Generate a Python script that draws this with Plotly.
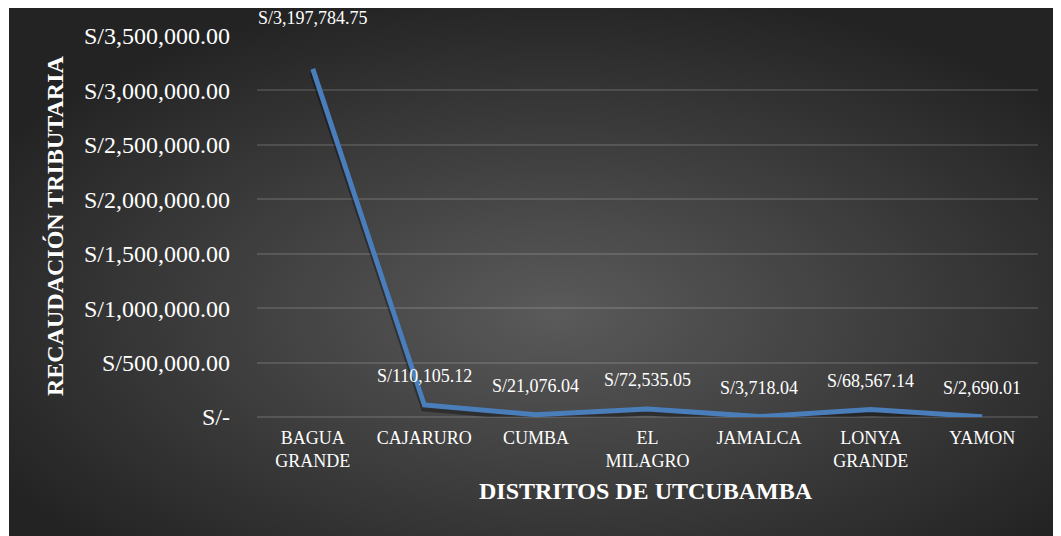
import base64
import plotly.graph_objects as go

distritos = ['BAGUA<br>GRANDE', 'CAJARURO', 'CUMBA', 'EL<br>MILAGRO',
             'JAMALCA', 'LONYA<br>GRANDE', 'YAMON']
recaudacion = [3197784.75, 110105.12, 21076.04, 72535.05, 3718.04, 68567.14, 2690.01]
etiquetas = ['S/3,197,784.75', 'S/110,105.12', 'S/21,076.04', 'S/72,535.05',
             'S/3,718.04', 'S/68,567.14', 'S/2,690.01']
y_ticks = [0, 500000, 1000000, 1500000, 2000000, 2500000, 3000000, 3500000]
y_ticktext = ['S/-', 'S/500,000.00', 'S/1,000,000.00', 'S/1,500,000.00',
              'S/2,000,000.00', 'S/2,500,000.00', 'S/3,000,000.00', 'S/3,500,000.00']

serif = 'Liberation Serif'
y_max = 3500000

# dark radial background like the Excel chart style
svg = ("<svg xmlns='http://www.w3.org/2000/svg' width='1052' height='530'>"
       "<defs><radialGradient id='g' cx='52%' cy='58%' r='62%'>"
       "<stop offset='0' stop-color='#5a5a5a'/>"
       "<stop offset='1' stop-color='#232323'/>"
       "</radialGradient></defs>"
       "<rect width='1052' height='530' fill='url(#g)'/></svg>")
bg_src = 'data:image/svg+xml;base64,' + base64.b64encode(svg.encode()).decode()

# page body margin shifts the figure by 8px
OFF = 8
FW, FH = 1061 - OFF, 536 - OFF
# plot area in screen pixels: x 257..1038, y 36..417
L, R, T, B = 257 - OFF, 1038 - OFF, 36 - OFF, 417 - OFF
W, H = R - L, B - T


def px_x(p):
    return (p - OFF - L) / W


def px_y(p):
    return (B - (p - OFF)) / H


# shadow axis: same data drawn a few px lower
shadow_shift = 3 / H * y_max

fig = go.Figure()
# base axis carries ticks and grid
fig.add_trace(go.Scatter(
    x=distritos, y=recaudacion, mode='lines',
    line=dict(color='rgba(0,0,0,0)', width=0),
    hoverinfo='skip', showlegend=False,
))
fig.add_trace(go.Scatter(
    x=distritos, y=recaudacion, mode='lines', yaxis='y2',
    line=dict(color='rgba(0,0,0,0.35)', width=7),
    hoverinfo='skip', showlegend=False,
))
fig.add_trace(go.Scatter(
    x=distritos, y=recaudacion, mode='lines', yaxis='y3',
    line=dict(color='#4a7ebb', width=5),
    hoverinfo='skip', showlegend=False,
))

for i, (d, v, t) in enumerate(zip(distritos, recaudacion, etiquetas)):
    fig.add_annotation(x=d, y=v, yref='y3', text=t, showarrow=False,
                       yshift=51 if i == 0 else 29,
                       font=dict(family=serif, size=18, color='white'))

fig.add_annotation(xref='paper', yref='paper', x=px_x(55), y=px_y(226),
                   xanchor='center', yanchor='middle',
                   text='<b>RECAUDACIÓN TRIBUTARIA</b>', textangle=-90,
                   showarrow=False, font=dict(family=serif, size=24, color='white'))
fig.add_annotation(xref='paper', yref='paper', x=px_x(646), y=px_y(491),
                   xanchor='center', yanchor='middle',
                   text='<b>DISTRITOS DE UTCUBAMBA</b>',
                   showarrow=False, font=dict(family=serif, size=24, color='white'))

fig.add_layout_image(dict(
    source=bg_src, xref='paper', yref='paper',
    x=px_x(9), y=px_y(6), sizex=1052 / W, sizey=530 / H,
    xanchor='left', yanchor='top', sizing='stretch', layer='below',
))

fig.update_layout(
    width=FW, height=FH,
    margin=dict(l=L, r=FW - R, t=T, b=FH - B, autoexpand=False),
    paper_bgcolor='white', plot_bgcolor='rgba(0,0,0,0)',
    xaxis=dict(range=[-0.5, 6.5], showgrid=False, zeroline=False, showline=False,
               tickfont=dict(family=serif, size=18, color='white'), ticks='',
               ticklabelstandoff=8),
    yaxis=dict(range=[0, y_max], tickvals=y_ticks, ticktext=y_ticktext,
               showgrid=True, gridcolor='rgba(255,255,255,0.13)', gridwidth=1.5,
               zeroline=True, zerolinecolor='rgba(255,255,255,0.13)', zerolinewidth=1.5,
               showline=False, ticks='', ticklabelstandoff=26,
               tickfont=dict(family=serif, size=24, color='white')),
    yaxis2=dict(range=[shadow_shift, y_max + shadow_shift], overlaying='y', visible=False),
    yaxis3=dict(range=[0, y_max], overlaying='y', visible=False),
)

fig.write_html("out.html")
